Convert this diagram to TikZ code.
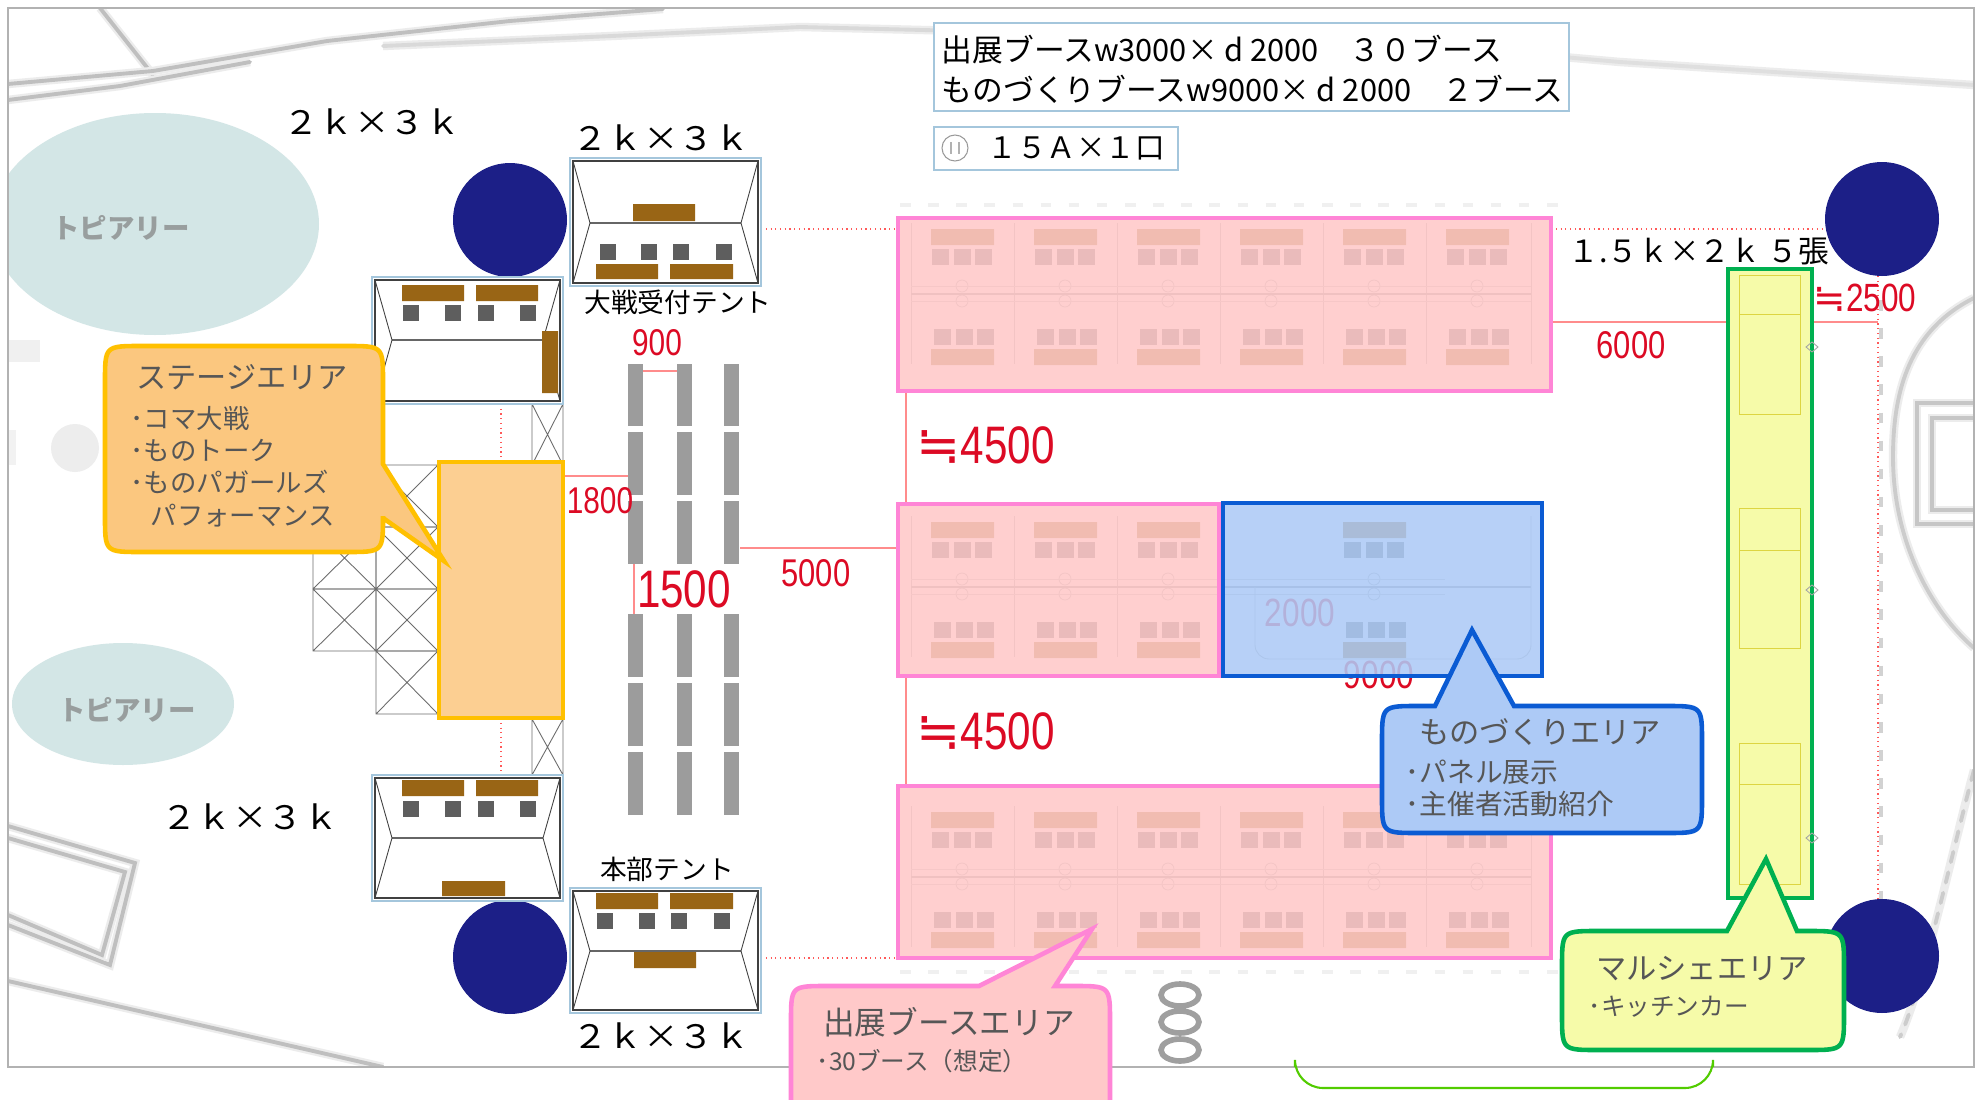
\documentclass[tikz,border=0pt]{standalone}
\usepackage{fontspec}
\setmainfont{Liberation Sans}
\newfontfamily\cjkfont{Noto Sans CJK JP}
\newfontfamily\cjkwide[FakeStretch=1.1]{Noto Sans CJK JP}
\newfontfamily\dimfont[FakeStretch=0.8]{Liberation Sans}
\newfontfamily\aboutfont{DejaVu Sans}
\newcommand{\fs}[1]{\fontsize{#1}{#1}\selectfont}
\definecolor{navyspot}{HTML}{1C1F87}
\definecolor{hedge}{HTML}{D3E6E6}
\definecolor{tentline}{HTML}{A4C6DC}
\definecolor{tabletop}{HTML}{996515}
\definecolor{seat}{HTML}{5E5E5E}
\definecolor{bench}{HTML}{9C9C9C}
\definecolor{dimred}{HTML}{DC0A24}
\definecolor{pinkfill}{HTML}{FFC9C9}
\definecolor{pinkline}{HTML}{FF85D6}
\definecolor{bluefill}{HTML}{ADCAF6}
\definecolor{blueline}{HTML}{0B5BD3}
\definecolor{orangefill}{HTML}{FBC77F}
\definecolor{orangeline}{HTML}{FFC000}
\definecolor{yellowfill}{HTML}{F6FBA9}
\definecolor{greenline}{HTML}{00B050}
\definecolor{talktext}{HTML}{565656}
\tikzstyle{sketch} = [draw=gray!50, line width=1.1pt, line cap=round,
    preaction={draw=gray!15, line width=2.4pt}]
\tikzstyle{faintdash} = [draw=gray!12, line width=1pt, dash pattern=on 3pt off 5pt]
\tikzstyle{dotline} = [draw=red!65, line width=.35pt, densely dotted]
\tikzstyle{dimline} = [draw=red!45, line width=.3pt]
\tikzstyle{truss} = [draw=gray!85!black, line width=.25pt]
\tikzstyle{area} = [line width=1.3pt, fill opacity=.87]
\tikzstyle{callout} = [line width=1.3pt, line join=miter]
\tikzstyle{dimtext} = [text=dimred, inner sep=0pt]
\tikzstyle{sizelabel} = [font=\cjkwide\fs{9.2}, inner sep=0pt]
\tikzstyle{tentlabel} = [font=\cjkfont\fs{7.6}, inner sep=0pt]
\tikzstyle{areatitle} = [font=\cjkfont\fs{8.6}, text=talktext, inner sep=0pt]
\tikzstyle{areaitem} = [font=\cjkfont\fs{7.5}, text=talktext, anchor=west, inner sep=0pt]
\newcommand{\tentframe}[5]{%
    \draw[tentline, line width=.4pt] (#1,#2) rectangle (#3,#4);
    \draw[black!75, line width=.3pt] (#1+3,#2+3) rectangle (#3-3,#4-3);
    \draw[black!60, line width=.4pt] (#1+20,#5) -- (#3-20,#5);
    \draw[black!75, line width=.25pt] (#1+3,#2+3) -- (#1+20,#5) -- (#1+3,#4-3)
        (#3-3,#2+3) -- (#3-20,#5) -- (#3-3,#4-3);
}
\begin{document}
\begin{tikzpicture}[x=0.01cm,y=-0.01cm]
\useasboundingbox (0,0) rectangle (1981,1100);
\fill[white] (0,0) rectangle (1981,1100);
    %sketch behind the plan
    \begin{scope}
    \clip (8,8) rectangle (1974,1067);
    \fill[hedge] (155,224) ellipse [x radius=164, y radius=111];
    \fill[hedge] (123,704) ellipse [x radius=111, y radius=61];
    \draw[sketch] (100,8) -- (153,75);
    \draw[sketch] (8,84) -- (153,71) -- (327,41) -- (510,21) -- (663,9);
    \draw[sketch] (8,100) -- (120,86) -- (250,62);
    \draw[sketch, draw=gray!30] (383,46) -- (612,36) -- (800,27) -- (1004,32) -- (1208,36);
    \draw[sketch, draw=gray!25] (1540,55) -- (1620,62) -- (1974,85);
    \draw[sketch] (8,826) -- (135,863) -- (110,965) -- (8,925);
    \draw[sketch] (8,838) -- (125,872) -- (102,955) -- (8,915);
    \draw[sketch] (8,981) -- (383,1067);
    \fill[gray!12] (8,340) rectangle (40,362);
    \fill[gray!14] (75,448) circle [radius=24];
    \fill[gray!10] (8,430) rectangle (16,465);
    \draw[sketch, draw=gray!40] (1974,298) .. controls (1910,330) and (1893,390) .. (1893,457)
        .. controls (1893,540) and (1930,610) .. (1974,648);
    \draw[sketch, draw=gray!40, dashed] (1974,770) .. controls (1950,860) and (1925,980) .. (1900,1037);
    \draw[sketch, draw=gray!45] (1974,403) -- (1917,403) -- (1917,524) -- (1974,524);
    \draw[sketch, draw=gray!45] (1974,418) -- (1932,418) -- (1932,510) -- (1974,510);
    \draw[faintdash, draw=gray!35] (1881,300) -- (1881,900);
    \draw[faintdash] (900,205) -- (1560,205);
    \draw[faintdash] (900,972) -- (1560,972);
    \draw[line width=1.6pt, draw=gray!75] (1180,995) ellipse [x radius=19, y radius=11]
        (1180,1022) ellipse [x radius=19, y radius=11]
        (1180,1050) ellipse [x radius=19, y radius=11];
    \end{scope}
    \node[font=\cjkfont\bfseries\fs{7.8}, text=gray!70!hedge, inner sep=0pt] (hedgetop) at (121,228) {トピアリー};
    \node[font=\cjkfont\bfseries\fs{7.8}, text=gray!70!hedge, inner sep=0pt] (hedgelow) at (127,710) {トピアリー};
    \draw[gray!60, line width=.3pt] (8,8) rectangle (1974,1067);
    \draw[green!60!yellow!80!black, line width=.6pt, rounded corners=8] (1295,1067) -- (1295,1088) -- (1713,1088) -- (1713,1067);
    %poles
    \foreach \px/\py in {510/220, 510/957, 1882/219, 1882/956}
        \fill[navyspot] (\px,\py) circle [radius=57];
    %dotted limits and dimension lines
    \draw[dotline] (761,229) -- (898,229) (1551,229) -- (1825,229);
    \draw[dotline] (1878,276) -- (1878,900);
    \draw[dotline] (761,958) -- (898,958);
    \draw[dotline] (501,404) -- (501,462) (501,718) -- (501,775);
    \draw[dimline] (643,371) -- (677,371);
    \draw[dimline] (565,476) -- (628,476);
    \draw[dimline] (634,564) -- (634,614);
    \draw[dimline] (740,548) -- (900,548);
    \draw[dimline] (906,391) -- (906,504) (906,677) -- (906,786);
    \draw[dimline] (1552,322) -- (1878,322);
    %truss
    \foreach \tx/\ty/\tw/\th in {376/465/62/62, 376/527/62/62, 376/589/62/62, 376/651/62/63,
            313/527/63/62, 313/589/63/62, 532/404/31/61, 532/719/31/56}
        \draw[truss] (\tx,\ty) rectangle (\tx+\tw,\ty+\th)
            (\tx,\ty) -- (\tx+\tw,\ty+\th) (\tx+\tw,\ty) -- (\tx,\ty+\th);
    %tents
    \tentframe{570}{158}{761}{286}{223}
    \tentframe{372}{277}{563}{404}{340}
    \tentframe{372}{775}{563}{901}{838}
    \tentframe{570}{888}{761}{1013}{951}
    \fill[tabletop] (633,204) rectangle (695,221) (596,264) rectangle (658,279) (670,264) rectangle (733,279);
    \fill[tabletop] (402,285) rectangle (464,301) (476,285) rectangle (538,301) (542,331) rectangle (558,393);
    \fill[tabletop] (402,780) rectangle (464,796) (476,780) rectangle (538,796) (442,881) rectangle (505,896);
    \fill[tabletop] (596,893) rectangle (658,909) (670,893) rectangle (733,909) (634,952) rectangle (696,968);
    \foreach \sx in {600,641,673,716}
        \fill[seat] (\sx,244) rectangle (\sx+16,260);
    \foreach \sx in {403,445,478,520} {
        \fill[seat] (\sx,305) rectangle (\sx+16,321);
        \fill[seat] (\sx,801) rectangle (\sx+16,817);
    }
    \foreach \sx in {597,639,671,714}
        \fill[seat] (\sx,913) rectangle (\sx+16,929);
    %benches
    \foreach \bx in {628,677,724}
        \foreach \by/\bh in {364/62, 432/63, 501/63, 614/63, 683/63, 752/63}
            \fill[bench] (\bx,\by) rectangle (\bx+15,\by+\bh);
    %booths
    \foreach \by/\cols in {0/{0,1,2,3,4,5}, 293/{0,1,2,4}, 583/{0,1,2,3,4,5}}
        \foreach \bx in \cols {
            \begin{scope}[shift={(\bx*103,\by)}]
            \fill[tabletop] (931,229) rectangle (994,245) (931,349) rectangle (994,365);
            \foreach \sx in {932,953.5,974.5} {
                \fill[seat] (\sx,249) rectangle (\sx+17,265);
                \fill[seat] (\sx+2,329) rectangle (\sx+19,345);
            }
            \draw[gray!60, line width=.25pt] (962,286) circle [radius=6] (962,301) circle [radius=6];
            \end{scope}
        }
    \foreach \by in {0,583} {
        \foreach \sx in {911,1014,1117,1220,1323,1426,1531}
            \draw[gray!70, line width=.25pt] (\sx,223+\by) -- (\sx,364+\by);
        \draw[gray!90, line width=.4pt] (911,294+\by) -- (1531,294+\by);
        \draw[gray!50, line width=.25pt] (911,286+\by) -- (1531,286+\by) (911,301+\by) -- (1531,301+\by);
    }
    \foreach \sx in {911,1014,1117,1220}
        \draw[gray!70, line width=.25pt] (\sx,516) -- (\sx,657);
    \draw[gray!90, line width=.4pt] (911,587) -- (1531,587);
    \draw[gray!50, line width=.25pt] (911,579) -- (1445,579) (911,594) -- (1445,594);
    \draw[gray!70, line width=.25pt, rounded corners=4] (1531,516) -- (1531,659) -- (1255,659) -- (1255,587);
    %figures under the areas
    \node[dimtext, font=\dimfont\fs{11.2}] (widthnine) at (1379,675) {9000};
    \node[dimtext, font=\dimfont\fs{11.2}] (depthtwo) at (1300,613) {2000};
    %areas
    \draw[area, fill=pinkfill, draw=pinkline, draw opacity=1] (898,218) rectangle (1551,391);
    \draw[area, fill=pinkfill, draw=pinkline, draw opacity=1] (898,504) rectangle (1219,676);
    \draw[area, fill=pinkfill, draw=pinkline, draw opacity=1] (898,786) rectangle (1551,958);
    \draw[area, fill=bluefill, draw=blueline, draw opacity=1] (1223,503) rectangle (1542,676);
    \draw[line width=1.4pt, fill=orangefill!85!white, draw=orangeline] (439,462) rectangle (563,718);
    %market strip
    \draw[line width=1.3pt, fill=yellowfill, draw=greenline] (1728,269) rectangle (1812,898);
    \foreach \cy/\cm/\ce in {275/314/414, 508/550/648, 743/784/884} {
        \draw[yellow!70!gray, line width=.25pt] (1739,\cy) rectangle (1800,\ce) (1739,\cm) -- (1800,\cm);
    }
    \foreach \cy in {347,590,838}
        \draw[gray!70, line width=.25pt] (1806,\cy) -- (1812,\cy-5) -- (1818,\cy) -- (1812,\cy+5) -- cycle;
    %callouts
    \draw[callout, fill=orangefill, draw=orangeline] (141,346) -- (347,346) .. controls (383,346) .. (383,382)
        -- (383,464) -- (444,561) -- (383,518) -- (383,516) .. controls (383,552) .. (347,552)
        -- (141,552) .. controls (105,552) .. (105,516) -- (105,382) .. controls (105,346) .. (141,346) -- cycle;
    \draw[callout, fill=bluefill, draw=blueline] (1418,706) -- (1435,706) -- (1472,630) -- (1514,706)
        -- (1666,706) .. controls (1702,706) .. (1702,742) -- (1702,797) .. controls (1702,833) .. (1666,833)
        -- (1418,833) .. controls (1382,833) .. (1382,797) -- (1382,742) .. controls (1382,706) .. (1418,706) -- cycle;
    \draw[callout, fill=pinkfill, draw=pinkline] (791,1100) -- (791,1022) .. controls (791,986) .. (827,986)
        -- (979,986) -- (1092,929) -- (1055,986) -- (1074,986) .. controls (1110,986) .. (1110,1022) -- (1110,1100);
    \draw[callout, fill=yellowfill, draw=greenline] (1598,931) -- (1727,931) -- (1766,859) -- (1797,931)
        -- (1808,931) .. controls (1844,931) .. (1844,967) -- (1844,1014) .. controls (1844,1050) .. (1808,1050)
        -- (1598,1050) .. controls (1562,1050) .. (1562,1014) -- (1562,967) .. controls (1562,931) .. (1598,931) -- cycle;
    %callout texts
    \node[areatitle] (stagetitle) at (242,377) {ステージエリア};
    \node[areaitem] (stageone) at (130,418) {･コマ大戦};
    \node[areaitem] (stagetwo) at (130,450) {･ものトーク};
    \node[areaitem] (stagethree) at (130,482) {･ものパガールズ};
    \node[areaitem] (stagefour) at (150,516) {パフォーマンス};
    \node[areatitle] (craftstitle) at (1540,732) {ものづくりエリア};
    \node[areaitem, font=\cjkfont\fs{7.9}] (craftsone) at (1405,772) {･パネル展示};
    \node[areaitem, font=\cjkfont\fs{7.9}] (craftstwo) at (1405,804) {･主催者活動紹介};
    \node[areatitle, font=\cjkfont\fs{9}] (boothtitle) at (949,1022) {出展ブースエリア};
    \node[areaitem, font=\cjkfont\fs{7}] (boothone) at (816,1061) {･30ブース（想定）};
    \node[areatitle] (markettitle) at (1702,969) {マルシェエリア};
    \node[areaitem, font=\cjkfont\fs{7}] (marketone) at (1588,1007) {･キッチンカー};
    %info boxes
    \draw[tentline, line width=.4pt, fill=white] (934,23) rectangle (1569,111);
    \draw[tentline, line width=.4pt, fill=white] (934,127) rectangle (1178,170);
    \node[font=\cjkfont\fs{8.75}, anchor=west, inner sep=0pt] (boxone) at (941,50)
        {出展ブースw3000× d 2000　３０ブース};
    \node[font=\cjkfont\fs{8.75}, anchor=west, inner sep=0pt] (boxtwo) at (941,89)
        {ものづくりブースw9000× d 2000　２ブース};
    \draw[gray!80, line width=.3pt] (955,148) circle [radius=13];
    \draw[gray!60, line width=.3pt] (951,142) -- (951,154) (959,142) -- (959,154);
    \node[font=\cjkfont\fs{8.4}, anchor=west, inner sep=0pt] (powerlabel) at (987,148) {１５Ａ×１口};
    %size labels
    \node[sizelabel] (sizeone) at (372,122) {２ｋ×３ｋ};
    \node[sizelabel] (sizetwo) at (661,138) {２ｋ×３ｋ};
    \node[sizelabel] (sizethree) at (250,817) {２ｋ×３ｋ};
    \node[sizelabel] (sizefour) at (661,1036) {２ｋ×３ｋ};
    \node[font=\cjkfont\fs{8.7}, inner sep=0pt, anchor=west] (sizefive) at (1568,251) {１.５ｋ×２ｋ ５張};
    \node[tentlabel] (entrytent) at (678,302) {大戦受付テント};
    \node[tentlabel] (maintent) at (667,869) {本部テント};
    %red figures
    \node[dimtext, font=\dimfont\fs{10.6}] (widthbench) at (657,343) {900};
    \node[dimtext, font=\dimfont\fs{10.6}] (gapstage) at (600,501) {1800};
    \node[dimtext, font=\dimfont\fs{15}] (gapbench) at (684,589) {1500};
    \node[dimtext, font=\dimfont\fs{11}] (gapbooth) at (816,573) {5000};
    \node[dimtext, font=\dimfont\fs{11}] (gapmarket) at (1631,345) {6000};
    \node[dimtext, anchor=west] (aboutone) at (916,445) {{\aboutfont\fs{15}≒}{\dimfont\fs{15}4500}};
    \node[dimtext, anchor=west] (abouttwo) at (916,731) {{\aboutfont\fs{15}≒}{\dimfont\fs{15}4500}};
    \node[dimtext, anchor=west] (aboutthree) at (1813,298) {{\aboutfont\fs{11}≒}{\dimfont\fs{11.2}2500}};
\end{tikzpicture}
\end{document}
